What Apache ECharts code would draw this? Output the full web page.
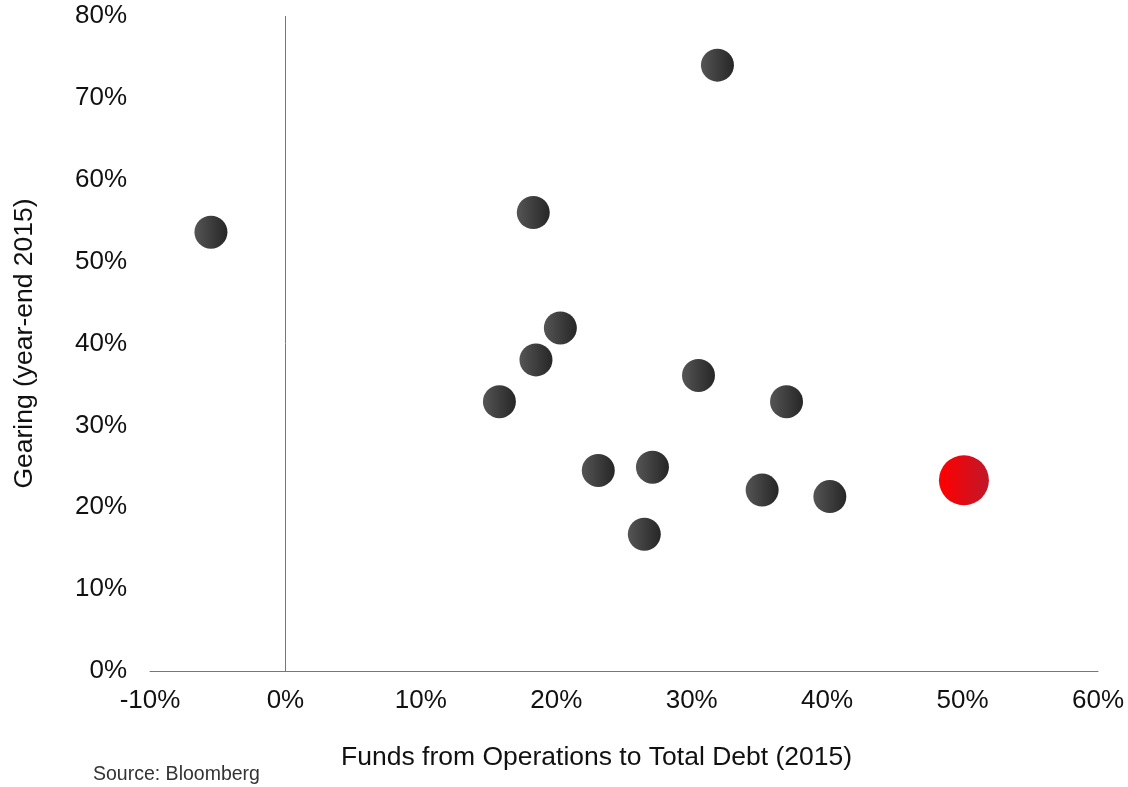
<!DOCTYPE html>
<html>
<head>
<meta charset="utf-8">
<script src="https://cdn.jsdelivr.net/npm/echarts@6/dist/echarts.min.js"></script>
<style>html,body{margin:0;padding:0;background:#fff}#c{width:1128px;height:787px}</style>
</head>
<body>
<div id="c"></div>
<script>
// FFO to total debt (%), gearing (%)
const companiesX = [-5.5, 31.9, 18.3, 20.3, 18.5, 15.8, 30.5, 37.0, 23.1, 27.1, 26.5, 35.2, 40.2];
const companiesY = [53.6, 74.0, 56.0, 41.9, 38.0, 32.9, 36.1, 32.9, 24.5, 24.9, 16.7, 22.1, 21.3];
const highlightX = [50.1];
const highlightY = [23.3];
const xTicks = {min: -10, max: 60, interval: 10};
const yTicks = {min: 0, max: 80, interval: 10};

const font = '"Liberation Sans", Arial, sans-serif';
const chart = echarts.init(document.getElementById('c'));
chart.setOption({
  animation: false,
  backgroundColor: '#fff',
  grid: {left: 150, right: 30, top: 16, bottom: 116},
  xAxis: {
    type: 'value', min: xTicks.min, max: xTicks.max, interval: xTicks.interval,
    splitLine: {show: false},
    axisTick: {show: false},
    axisLine: {show: true, onZero: false, lineStyle: {color: '#777', width: 1}},
    axisLabel: {formatter: '{value}%', color: '#111', fontSize: 26, fontFamily: font, margin: 17}
  },
  yAxis: {
    type: 'value', min: yTicks.min, max: yTicks.max, interval: yTicks.interval,
    splitLine: {show: false},
    axisTick: {show: false},
    axisLine: {show: false},
    axisLabel: {formatter: '{value}%', color: '#111', fontSize: 26, fontFamily: font, margin: 23},
    name: 'Gearing (year-end 2015)', nameLocation: 'middle', nameGap: 112,
    nameTextStyle: {color: '#111', fontSize: 26.5, fontFamily: font}
  },
  graphic: [
    {type: 'text', left: 341, top: 744, style: {text: 'Funds from Operations to Total Debt (2015)', fill: '#111', fontSize: 26.5, fontFamily: font}},
    {type: 'text', left: 93, top: 765, style: {text: 'Source: Bloomberg', fill: '#333', fontSize: 19.5, fontFamily: font}}
  ],
  series: [
    {
      type: 'scatter', symbol: 'circle', symbolSize: 33,
      data: companiesX.map((x, i) => [x, companiesY[i]]),
      itemStyle: {opacity: 1, color: {type: 'linear', x: 0, y: 0, x2: 1, y2: 0, colorStops: [{offset: 0, color: '#555555'}, {offset: 1, color: '#262626'}]}},
      markLine: {silent: true, symbol: 'none', label: {show: false}, lineStyle: {color: '#777', width: 1, type: 'solid'}, data: [{xAxis: 0}]}
    },
    {
      type: 'scatter', symbol: 'circle', symbolSize: 50,
      data: highlightX.map((x, i) => [x, highlightY[i]]),
      itemStyle: {opacity: 1, color: {type: 'linear', x: 0, y: 0, x2: 1, y2: 0, colorStops: [{offset: 0, color: '#ff0000'}, {offset: 1, color: '#c0182a'}]}}
    }
  ]
});
</script>
</body>
</html>
